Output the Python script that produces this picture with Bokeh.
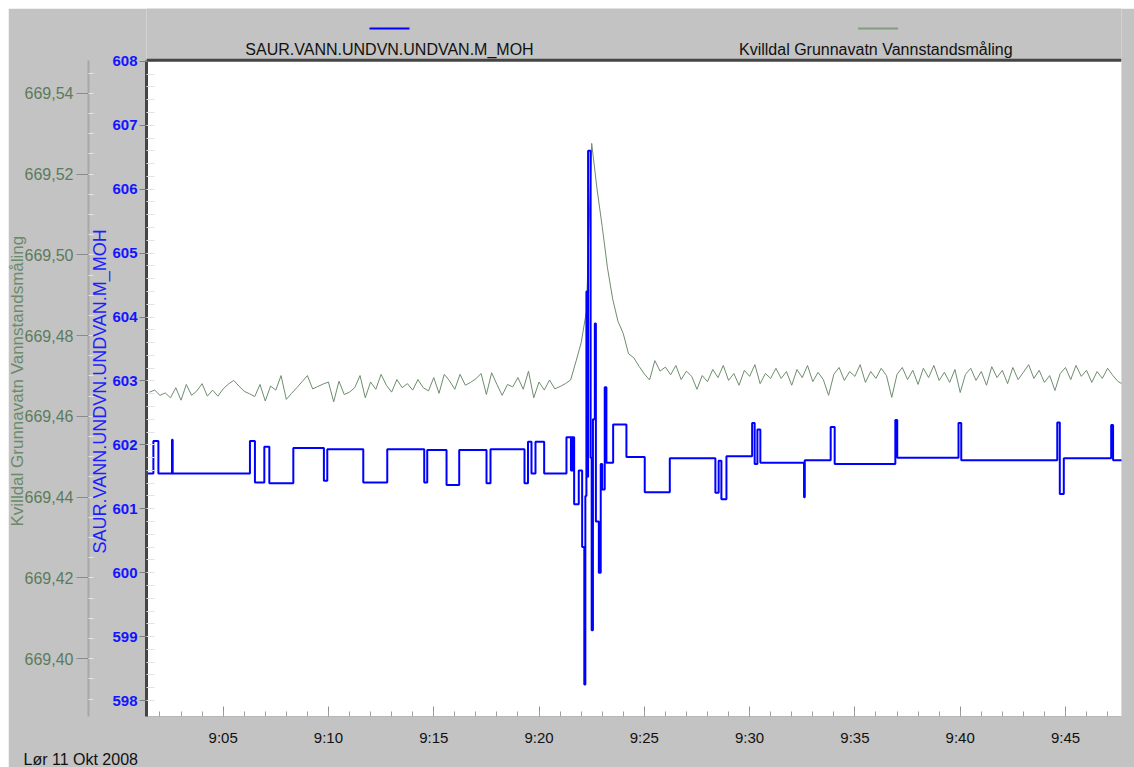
from bokeh.plotting import figure
from bokeh.layouts import column, row
from bokeh.models import (Range1d, LinearAxis, FixedTicker, CustomJSTickFormatter, Spacer,
                          Title, BoxAnnotation, Span)
from bokeh.core.properties import value
from bokeh.embed import file_html
from bokeh.resources import INLINE

FONT = "Liberation Sans"
BG = "#c3c3c3"

# ---------------- data ----------------
# time axis: minutes after 9:00 (Lør 11 Okt 2008)
x_major = [5, 10, 15, 20, 25, 30, 35, 40, 45]
x_labels = ["9:05", "9:10", "9:15", "9:20", "9:25", "9:30", "9:35", "9:40", "9:45"]

blue_name = "SAUR.VANN.UNDVN.UNDVAN.M_MOH"
green_name = "Kvilldal  Grunnavatn Vannstandsmåling"
date_text = "Lør 11 Okt 2008"

# SAUR.VANN.UNDVN.UNDVAN.M_MOH  (step series: time of change, new value)
blue_t = [1.30, 1.687, 1.925, 2.570, 2.603, 6.272, 6.509, 6.955, 7.193, 8.332,
          9.784, 9.945, 11.654, 12.793, 14.549, 14.692, 15.608, 16.210, 17.506, 17.696,
          19.310, 19.476, 19.642, 19.832, 20.244, 21.303, 21.516, 21.554, 21.588, 21.621,
          21.668, 21.887, 22.048, 22.15, 22.20, 22.25, 22.29, 22.33, 22.45, 22.50,
          22.56, 22.65, 22.70, 22.84, 22.93, 23.00, 23.12, 23.20, 23.52, 24.15,
          25.02, 26.21, 28.375, 28.53, 28.66, 28.90, 30.12, 30.24, 30.37, 30.51,
          32.585, 32.62, 33.85, 34.04, 36.92, 37.01, 39.92, 40.05, 44.61, 44.73,
          44.92, 47.17, 47.26, 47.75]
blue_v = [601.55, 602.06, 601.55, 602.08, 601.55, 602.06, 601.41, 601.97, 601.40, 601.95,
          601.44, 601.93, 601.41, 601.93, 601.41, 601.92, 601.37, 601.92, 601.40, 601.93,
          601.40, 602.05, 601.55, 602.05, 601.55, 602.12, 601.60, 602.12, 601.60, 602.12,
          601.07, 601.60, 600.40, 598.25, 601.20, 604.40, 601.50, 606.60, 601.80, 599.10,
          602.40, 603.90, 600.80, 600.00, 601.70, 601.30, 602.90, 601.72, 602.32, 601.81,
          601.26, 601.79, 601.25, 601.75, 601.15, 601.82, 602.34, 601.70, 602.24, 601.72,
          601.18, 601.76, 602.28, 601.70, 602.39, 601.80, 602.34, 601.76, 602.35, 601.23,
          601.79, 602.31, 601.76, 601.76]

# Kvilldal Grunnavatn Vannstandsmåling, sampled every 15 s from 9:01:30
green_start = 1.5
green_step = 0.25
green_v = [
    669.4660, 669.4665, 669.4652, 669.4658, 669.4646, 669.4671, 669.4640, 669.4679, 669.4652, 669.4663,
    669.4681, 669.4650, 669.4665, 669.4650, 669.4668, 669.4680, 669.4689, 669.4675, 669.4662, 669.4656,
    669.4649, 669.4679, 669.4638, 669.4675, 669.4665, 669.4701, 669.4642, 669.4657, 669.4671, 669.4686,
    669.4701, 669.4668, 669.4674, 669.4680, 669.4685, 669.4636, 669.4687, 669.4654, 669.4660, 669.4671,
    669.4701, 669.4646, 669.4685, 669.4667, 669.4704, 669.4677, 669.4660, 669.4691, 669.4671, 669.4681,
    669.4665, 669.4691, 669.4671, 669.4663, 669.4696, 669.4657, 669.4704, 669.4688, 669.4667, 669.4704,
    669.4677, 669.4684, 669.4693, 669.4706, 669.4654, 669.4708, 669.4679, 669.4652, 669.4679, 669.4673,
    669.4696, 669.4667, 669.4712, 669.4646, 669.4685, 669.4665, 669.4690, 669.4668, 669.4674, 669.4681,
    669.4690, 669.4735, 669.4782, 669.4860, 669.5276, 669.5165, 669.5070, 669.4968, 669.4890, 669.4835,
    669.4805, 669.4755, 669.4745, 669.4724, 669.4705, 669.4690, 669.4738, 669.4712, 669.4722, 669.4703,
    669.4726, 669.4691, 669.4712, 669.4699, 669.4667, 669.4701, 669.4686, 669.4716, 669.4696, 669.4726,
    669.4689, 669.4706, 669.4677, 669.4714, 669.4699, 669.4728, 669.4681, 669.4706, 669.4694, 669.4719,
    669.4694, 669.4711, 669.4677, 669.4716, 669.4696, 669.4726, 669.4686, 669.4709, 669.4691, 669.4652,
    669.4704, 669.4721, 669.4689, 669.4711, 669.4699, 669.4728, 669.4684, 669.4711, 669.4694, 669.4719,
    669.4701, 669.4647, 669.4704, 669.4721, 669.4691, 669.4714, 669.4679, 669.4719, 669.4696, 669.4726,
    669.4689, 669.4709, 669.4684, 669.4716, 669.4659, 669.4704, 669.4719, 669.4689, 669.4711, 669.4677,
    669.4723, 669.4696, 669.4714, 669.4681, 669.4721, 669.4691, 669.4709, 669.4728, 669.4694, 669.4714,
    669.4684, 669.4701, 669.4664, 669.4706, 669.4721, 669.4691, 669.4726, 669.4699, 669.4714, 669.4684,
    669.4711, 669.4694, 669.4719, 669.4701, 669.4686, 669.4679]
green_t = [green_start + green_step * i for i in range(len(green_v))]

blue_ticks = [598, 599, 600, 601, 602, 603, 604, 605, 606, 607, 608]
green_ticks = [669.40, 669.42, 669.44, 669.46, 669.48, 669.50, 669.52, 669.54]

# axis extents (the plotting area) and the legend strip above it
blue_lo, blue_hi = 597.75, 608.016
green_lo, green_hi = 669.38568, 669.54815
blue_top_strip = 608.827      # top of legend strip, blue units
green_top_strip = 669.56099   # same height, green units

# legend entries: centre time, colour
legend_x = [12.9, 36.1]
legend_names = [blue_name, green_name]
legend_colors = ["#0000ff", "#7f9f7f"]
legend_line_y = 608.515
legend_text_y = 608.18

# ---------------- figure ----------------
p = figure(width=1126, height=759, output_backend="svg", toolbar_location=None,
           x_range=Range1d(1.36, 47.66), y_range=Range1d(blue_lo, blue_top_strip),
           min_border_left=138, min_border_right=13, min_border_top=0, min_border_bottom=49,
           background_fill_color=BG, border_fill_color=BG,
           outline_line_color=None)
p.grid.visible = False
p.extra_y_ranges = {"green": Range1d(green_lo, green_top_strip)}

# white plotting area (below the legend strip) and its dark top edge
p.add_layout(BoxAnnotation(top=blue_hi, fill_color="white", fill_alpha=1.0,
                           line_color=None, level="underlay"))
p.add_layout(Span(location=blue_hi, dimension="width", line_color="#454545",
                  line_width=3))

# x axis
xa = p.xaxis[0]
xa.ticker = FixedTicker(ticks=x_major, minor_ticks=list(range(2, 48)))
xa.major_label_overrides = {t: l for t, l in zip(x_major, x_labels)}
xa.axis_line_color = "#b8b8b8"
xa.major_tick_in = 10
xa.major_tick_out = 0
xa.minor_tick_in = 5
xa.minor_tick_out = 0
xa.major_tick_line_color = "#909090"
xa.minor_tick_line_color = "#a0a0a0"
xa.major_label_standoff = 12
xa.major_label_text_font = FONT
xa.major_label_text_font_size = "15px"
xa.major_label_text_color = "#111111"

# blue axis (inner left)
ya = p.yaxis[0]
ya.bounds = (blue_lo, blue_hi)
ya.ticker = FixedTicker(ticks=blue_ticks,
                        minor_ticks=[598 + 0.2 * i for i in range(51)])
ya.axis_line_color = "#454545"
ya.axis_line_width = 3
ya.major_tick_out = 7
ya.major_tick_in = 0
ya.major_tick_line_color = "#808080"
ya.minor_tick_in = 8
ya.minor_tick_out = 0
ya.minor_tick_line_color = "#e2e2e2"
ya.major_label_text_color = "#1414ff"
ya.major_label_text_font_style = "bold"
ya.major_label_text_font = FONT
ya.major_label_text_font_size = "15px"
ya.major_label_standoff = 2

# green axis (outer left)
ga = LinearAxis(y_range_name="green", bounds=(green_lo, green_hi),
                ticker=FixedTicker(ticks=green_ticks,
                                   minor_ticks=[669.39 + 0.005 * i for i in range(32)]),
                formatter=CustomJSTickFormatter(code="return tick.toFixed(2).replace('.', ',');"))
ga.axis_line_color = "#a8a8a8"
ga.axis_line_width = 2
ga.major_tick_out = 12
ga.major_tick_in = 0
ga.major_tick_line_color = "#8c8c8c"
ga.minor_tick_in = 5
ga.minor_tick_out = 0
ga.minor_tick_line_color = "#e4e4e4"
ga.major_label_text_color = "#5b7b5b"
ga.major_label_text_font = FONT
ga.major_label_text_font_size = "16px"
ga.major_label_standoff = 3

# axis titles as side titles, centred on the plotting area (not on the legend strip)
t_blue = Title(text=blue_name, align="left", offset=163, standoff=-1,
               text_font=FONT, text_font_size="18px", text_font_style="normal",
               text_color="#1e1eff")
t_green = Title(text=green_name, align="left", offset=190, standoff=-10,
                text_font=FONT, text_font_size="17px", text_font_style="normal",
                text_color="#6a8a6a")
p.left = [ya, t_blue, ga, t_green]

# data
p.line(green_t, green_v, y_range_name="green", line_color="#6e8e6e", line_width=1)
p.step(blue_t, blue_v, mode="after", line_color="#0000ff", line_width=2)

# legend: line sample above each name
p.segment(x0=[x - 0.95 for x in legend_x], x1=[x + 0.95 for x in legend_x],
          y0=[legend_line_y] * 2, y1=[legend_line_y] * 2,
          line_color=legend_colors, line_width=2)
p.text(x=legend_x, y=[legend_text_y] * 2, text=legend_names,
       text_align="center", text_baseline="middle",
       text_font=value(FONT), text_font_size="16px", text_color="#111111")

# date, bottom left
p.add_layout(Title(text=date_text, align="left", offset=-123, standoff=0,
                   text_font=FONT, text_font_size="16px", text_font_style="normal",
                   text_color="#111111"), "below")

layout = column(Spacer(height=8), row(Spacer(width=8), p))

open("out.html", "w").write(file_html(layout, INLINE))
